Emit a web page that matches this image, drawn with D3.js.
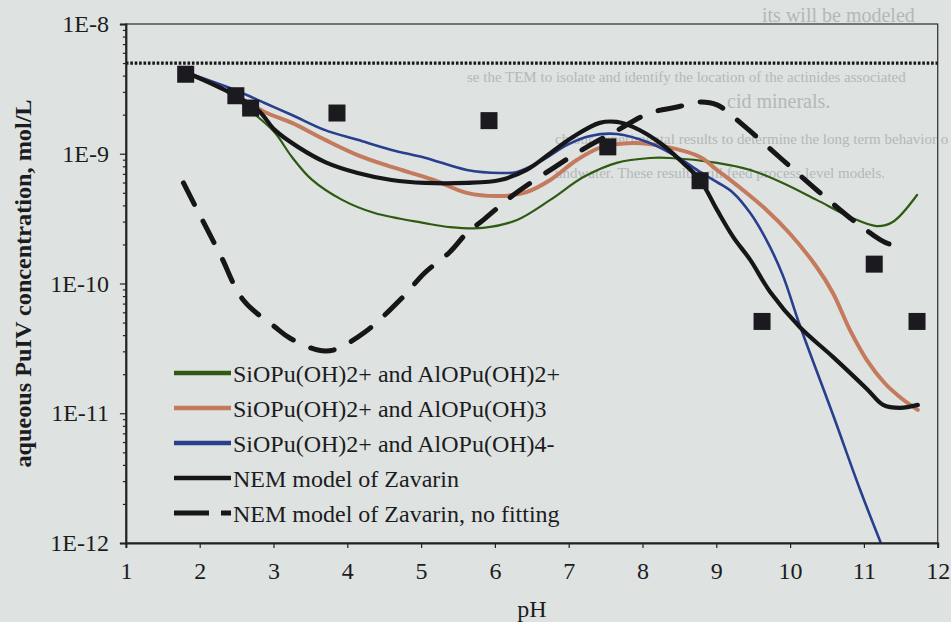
<!DOCTYPE html>
<html>
<head>
<meta charset="utf-8">
<script src="https://cdn.jsdelivr.net/npm/d3@7"></script>
<style>
  html, body { margin: 0; padding: 0; background: #dee2e1; }
  svg { display: block; }
</style>
</head>
<body>
<svg id="chart"></svg>
<script>
const W = 951, H = 622;
const SERIF = "'Liberation Serif', 'Times New Roman', serif";

const greenPH = [1.80, 2.34, 2.79, 3.02, 3.25, 3.52, 3.93, 4.37, 5.05, 5.39, 5.84, 6.30, 6.75, 7.20, 7.65, 8.10, 8.37, 9.01, 9.46, 9.90, 10.36, 10.81, 11.17, 11.39, 11.72];
const greenConc = [4.27e-9, 3.10e-9, 1.92e-9, 1.45e-9, 9.44e-10, 6.31e-10, 4.41e-10, 3.49e-10, 2.92e-10, 2.72e-10, 2.68e-10, 3.09e-10, 4.41e-10, 6.61e-10, 8.51e-10, 9.27e-10, 9.27e-10, 8.51e-10, 7.50e-10, 5.96e-10, 4.41e-10, 3.26e-10, 2.77e-10, 2.98e-10, 4.81e-10];

const orangePH = [1.80, 2.34, 2.88, 3.25, 3.70, 4.14, 4.60, 5.16, 5.62, 6.07, 6.43, 6.75, 7.11, 7.42, 7.87, 8.33, 8.78, 9.01, 9.36, 9.68, 9.99, 10.36, 10.58, 10.81, 11.04, 11.28, 11.49, 11.73];
const orangeConc = [4.27e-9, 3.10e-9, 2.10e-9, 1.73e-9, 1.28e-9, 9.77e-10, 7.91e-10, 6.31e-10, 4.99e-10, 4.72e-10, 5.07e-10, 6.28e-10, 8.95e-10, 1.11e-9, 1.21e-9, 1.13e-9, 9.44e-10, 7.50e-10, 5.26e-10, 3.69e-10, 2.45e-10, 1.34e-10, 8.45e-11, 4.39e-11, 2.57e-11, 1.71e-11, 1.33e-11, 1.06e-11];

const bluePH = [1.80, 2.48, 2.88, 3.25, 3.70, 4.14, 4.60, 5.05, 5.62, 6.07, 6.30, 6.65, 6.98, 7.29, 7.65, 8.10, 8.47, 8.78, 9.01, 9.23, 9.46, 9.68, 9.90, 10.13, 10.58, 10.95, 11.24];
const blueConc = [4.27e-9, 3.10e-9, 2.46e-9, 1.99e-9, 1.52e-9, 1.28e-9, 1.07e-9, 9.33e-10, 7.50e-10, 7.11e-10, 7.24e-10, 8.95e-10, 1.17e-9, 1.37e-9, 1.42e-9, 1.21e-9, 9.44e-10, 7.24e-10, 6.05e-10, 4.99e-10, 3.49e-10, 2.16e-10, 1.16e-10, 4.79e-11, 9.77e-12, 2.56e-12, 9.66e-13];

const nemPH = [1.80, 2.34, 2.79, 3.02, 3.33, 3.70, 4.14, 4.60, 5.05, 5.62, 6.07, 6.43, 6.75, 7.06, 7.42, 7.65, 7.87, 8.24, 8.55, 8.78, 9.01, 9.23, 9.46, 9.73, 10.13, 10.58, 11.04, 11.26, 11.49, 11.73];
const nemConc = [4.27e-9, 3.10e-9, 2.17e-9, 1.52e-9, 1.13e-9, 8.63e-10, 7.11e-10, 6.28e-10, 5.96e-10, 5.96e-10, 6.28e-10, 7.50e-10, 1.01e-9, 1.35e-9, 1.73e-9, 1.76e-9, 1.61e-9, 1.21e-9, 8.49e-10, 6.28e-10, 3.69e-10, 2.28e-10, 1.52e-10, 8.61e-11, 4.62e-11, 2.72e-11, 1.54e-11, 1.16e-11, 1.10e-11, 1.16e-11];

const nofitPH = [1.78, 1.98, 2.28, 2.59, 3.02, 3.22, 3.60, 3.81, 4.24, 4.74, 5.05, 5.39, 5.62, 5.84, 6.25, 6.79, 7.25, 7.60, 8.10, 8.47, 8.78, 9.01, 9.36, 9.90, 10.44, 10.94, 11.35, 11.58];
const nofitConc = [5.96e-10, 3.56e-10, 1.66e-10, 7.46e-11, 4.62e-11, 3.80e-11, 3.07e-11, 3.07e-11, 4.23e-11, 7.73e-11, 1.21e-10, 1.75e-10, 2.45e-10, 3.08e-10, 4.81e-10, 7.76e-10, 1.13e-9, 1.45e-9, 2.06e-9, 2.29e-9, 2.51e-9, 2.38e-9, 1.67e-9, 8.95e-10, 4.81e-10, 2.82e-10, 2.01e-10, 2.05e-10];

const expPH = [1.81, 2.49, 2.69, 3.86, 5.92, 7.53, 8.78, 9.62, 11.14, 11.72];
const expConc = [4.1e-9, 2.8e-9, 2.25e-9, 2.06e-9, 1.8e-9, 1.13e-9, 6.2e-10, 5.1e-11, 1.41e-10, 5.1e-11];

const solubility = 5e-9;

const legendLabels = [
  "SiOPu(OH)2+ and AlOPu(OH)2+",
  "SiOPu(OH)2+ and AlOPu(OH)3",
  "SiOPu(OH)2+ and AlOPu(OH)4-",
  "NEM model of Zavarin",
  "NEM model of Zavarin, no fitting"
];
const xTicks = d3.range(1, 13);
const yMajor = [1e-12, 1e-11, 1e-10, 1e-9, 1e-8];

// faint show-through from the other side of the scanned page
const ghostLines = [
  {t: "its will be modeled", x: 762, y: 22, s: 20},
  {t: "se the TEM to isolate and identify the location of the actinides associated", x: 467, y: 82, s: 15},
  {t: "cid minerals.", x: 727, y: 108, s: 20},
  {t: "ch our experimental results to determine the long term behavior o", x: 555, y: 144, s: 15},
  {t: "undwater. These results will feed process level models.", x: 555, y: 178, s: 15}
];

const svg = d3.select("#chart").attr("width", W).attr("height", H);
svg.append("rect").attr("width", W).attr("height", H).attr("fill", "#dee2e1");

const pLeft = 125.9, pRight = 937.7, pTop = 24, pBottom = 543;
const x = d3.scaleLinear().domain([1, 12]).range([pLeft, pRight]);
const y = d3.scaleLog().domain([1e-12, 1e-8]).range([pBottom, pTop]);

svg.append("g").selectAll("text")
  .data(ghostLines).enter().append("text")
  .attr("x", d => d.x).attr("y", d => d.y)
  .style("font-family", SERIF)
  .style("font-size", d => d.s + "px").style("fill", "#b4b8b8")
  .text(d => d.t);

svg.append("defs").append("clipPath").attr("id", "plotclip")
  .append("rect").attr("x", pLeft).attr("y", pTop)
  .attr("width", pRight - pLeft).attr("height", pBottom - pTop);

// frame
svg.append("rect")
  .attr("x", pLeft).attr("y", pTop)
  .attr("width", pRight - pLeft).attr("height", pBottom - pTop)
  .attr("fill", "none").attr("stroke", "#3a3a3a").attr("stroke-width", 1.3);

// dotted solubility line
svg.append("line")
  .attr("x1", pLeft).attr("x2", pRight)
  .attr("y1", y(solubility)).attr("y2", y(solubility))
  .attr("stroke", "#161616").attr("stroke-width", 3.2)
  .attr("stroke-dasharray", "2.6,1.8");

const plot = svg.append("g").attr("clip-path", "url(#plotclip)");
const line = d3.line()
  .x(d => x(d[0])).y(d => y(d[1]))
  .curve(d3.curveCatmullRom.alpha(0.5));

const series = [
  {ph: greenPH, c: greenConc, color: "#2e5a12", w: 2.2, dash: null},
  {ph: orangePH, c: orangeConc, color: "#c47a5c", w: 4, dash: null},
  {ph: bluePH, c: blueConc, color: "#283f8e", w: 2.6, dash: null},
  {ph: nemPH, c: nemConc, color: "#161618", w: 4.2, dash: null},
  {ph: nofitPH, c: nofitConc, color: "#161618", w: 5, dash: "24,19"}
];

series.forEach(s => {
  plot.append("path")
    .datum(d3.zip(s.ph, s.c))
    .attr("d", line)
    .attr("fill", "none")
    .attr("stroke", s.color)
    .attr("stroke-width", s.w)
    .attr("stroke-linecap", "round")
    .attr("stroke-linejoin", "round")
    .attr("stroke-dasharray", s.dash);
});

// experimental points
const SQ = 17;
plot.selectAll("rect.pt")
  .data(d3.zip(expPH, expConc)).enter().append("rect")
  .attr("class", "pt")
  .attr("x", d => x(d[0]) - SQ / 2).attr("y", d => y(d[1]) - SQ / 2)
  .attr("width", SQ).attr("height", SQ)
  .attr("fill", "#1b1b1f");

// axes
const yMinor = [];
yMajor.slice(0, -1).forEach(m => { for (let k = 2; k < 10; k++) yMinor.push(m * k); });

svg.append("g").attr("transform", `translate(${pLeft},0)`)
  .call(d3.axisLeft(y).tickValues(yMajor).tickSize(6).tickPadding(11)
    .tickFormat(d => "1E" + Math.round(Math.log10(d))));
svg.append("g").attr("transform", `translate(${pLeft},0)`)
  .call(d3.axisLeft(y).tickValues(yMinor).tickSize(3).tickFormat(""))
  .select(".domain").remove();

svg.append("g").attr("transform", `translate(0,${pBottom})`)
  .call(d3.axisBottom(x).tickValues(xTicks).tickSize(5).tickPadding(14).tickFormat(d3.format("d")));

svg.selectAll(".domain").attr("stroke", "#222").attr("stroke-width", 2);
svg.selectAll(".tick line").attr("stroke", "#222").attr("stroke-width", 1.2);
svg.selectAll(".tick text")
  .style("font-family", SERIF)
  .style("font-size", "24px").attr("fill", "#1c1c1e");

// axis titles
svg.append("text")
  .attr("x", x(6.5)).attr("y", 617)
  .attr("text-anchor", "middle")
  .style("font-family", SERIF).style("fill", "#1c1c1e")
  .style("font-size", "24px")
  .text("pH");

svg.append("text")
  .attr("transform", `translate(31,${(pTop + pBottom) / 2}) rotate(-90)`)
  .attr("text-anchor", "middle")
  .attr("textLength", 368).attr("lengthAdjust", "spacingAndGlyphs")
  .style("font-family", SERIF).style("fill", "#1c1c1e")
  .style("font-size", "23px").style("font-weight", "bold")
  .text("aqueous PuIV concentration, mol/L");

// legend
const lg = svg.append("g");
const rowY = d3.scalePoint().domain(d3.range(legendLabels.length)).range([373, 513]);
legendLabels.forEach((lab, i) => {
  const s = series[i];
  lg.append("line")
    .attr("x1", 174).attr("x2", 231)
    .attr("y1", rowY(i)).attr("y2", rowY(i))
    .attr("stroke", s.color).attr("stroke-width", i === 4 ? 5 : 4.5)
    .attr("stroke-dasharray", i === 4 ? "35,12" : null);
  lg.append("text")
    .attr("x", 233).attr("y", rowY(i) + 9)
    .style("font-family", SERIF).style("fill", "#1c1c1e")
    .style("font-size", "24px")
    .text(lab);
});
</script>
</body>
</html>
